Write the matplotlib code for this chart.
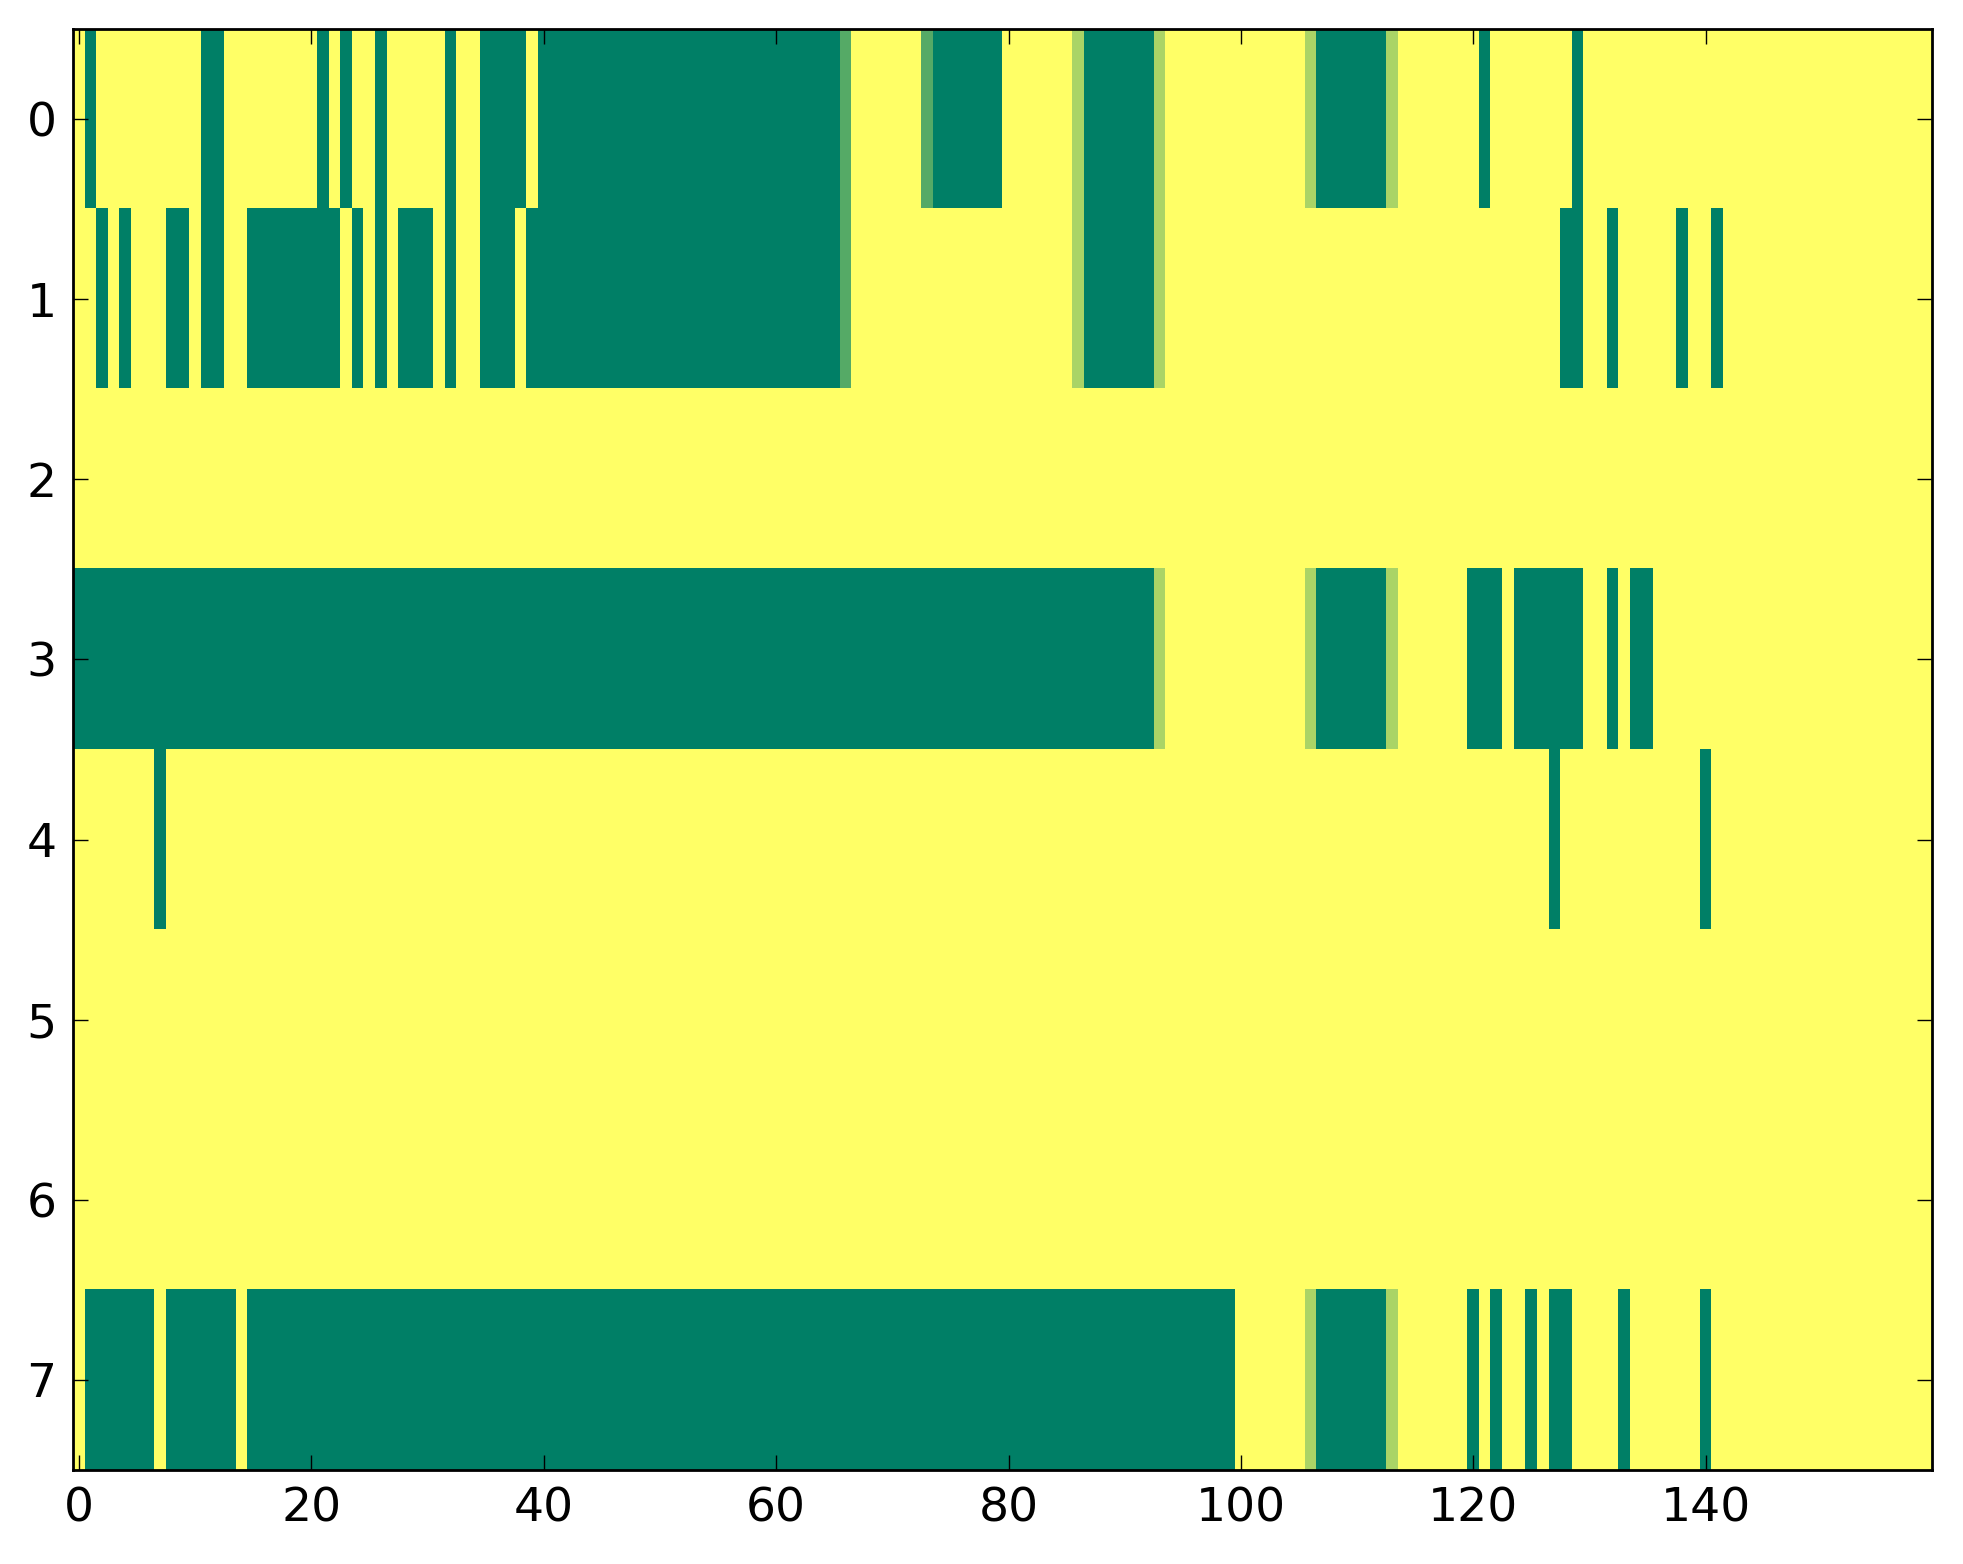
import numpy as np
import matplotlib
matplotlib.use("Agg")
from matplotlib import pyplot as plt

n_rows = 8
n_cols = 160

# runs of zero cells (start, stop inclusive) for each row, the rest is 1
row0_zero = [(1, 1), (11, 12), (21, 21), (23, 23), (26, 26), (32, 32), (35, 38),
             (40, 65), (74, 79), (87, 92), (107, 112), (121, 121), (129, 129)]
row1_zero = [(2, 2), (4, 4), (8, 9), (11, 12), (15, 22), (24, 24), (26, 26),
             (28, 30), (32, 32), (35, 37), (39, 65), (87, 92), (128, 129),
             (132, 132), (138, 138), (141, 141)]
row2_zero = []
row3_zero = [(0, 92), (107, 112), (120, 122), (124, 129), (132, 132), (134, 135)]
row4_zero = [(7, 7), (127, 127), (140, 140)]
row5_zero = []
row6_zero = []
row7_zero = [(1, 6), (8, 13), (15, 99), (107, 112), (120, 120), (122, 122),
             (125, 125), (127, 128), (133, 133), (140, 140)]

# cells with in-between values (row, col, value)
partial = [(0, 66, 1/3), (0, 73, 1/3), (0, 86, 2/3), (0, 93, 2/3), (0, 106, 2/3), (0, 113, 2/3),
           (1, 66, 1/3), (1, 86, 2/3), (1, 93, 2/3),
           (3, 93, 2/3), (3, 106, 2/3), (3, 113, 2/3),
           (7, 106, 2/3), (7, 113, 2/3)]

rows = [row0_zero, row1_zero, row2_zero, row3_zero,
        row4_zero, row5_zero, row6_zero, row7_zero]

data = np.ones((n_rows, n_cols))
for r, runs in enumerate(rows):
    for a, b in runs:
        data[r, a:b + 1] = 0
for r, c, v in partial:
    data[r, c] = v

fig = plt.figure(figsize=(9.815, 7.82), dpi=200)
ax = fig.add_axes([0.0373, 0.0601, 0.9470, 0.9214])
ax.imshow(data, cmap="summer", vmin=0, vmax=1, aspect="auto", interpolation="nearest")

ax.set_xticks(np.arange(0, 141, 20))
ax.set_yticks(np.arange(0, 8))
ax.tick_params(direction="in", top=True, right=True, length=5.5, width=0.5,
               labelsize=17, pad=6, colors="black")
for s in ax.spines.values():
    s.set_linewidth(1.0)

fig.savefig("out.png", dpi=200)
